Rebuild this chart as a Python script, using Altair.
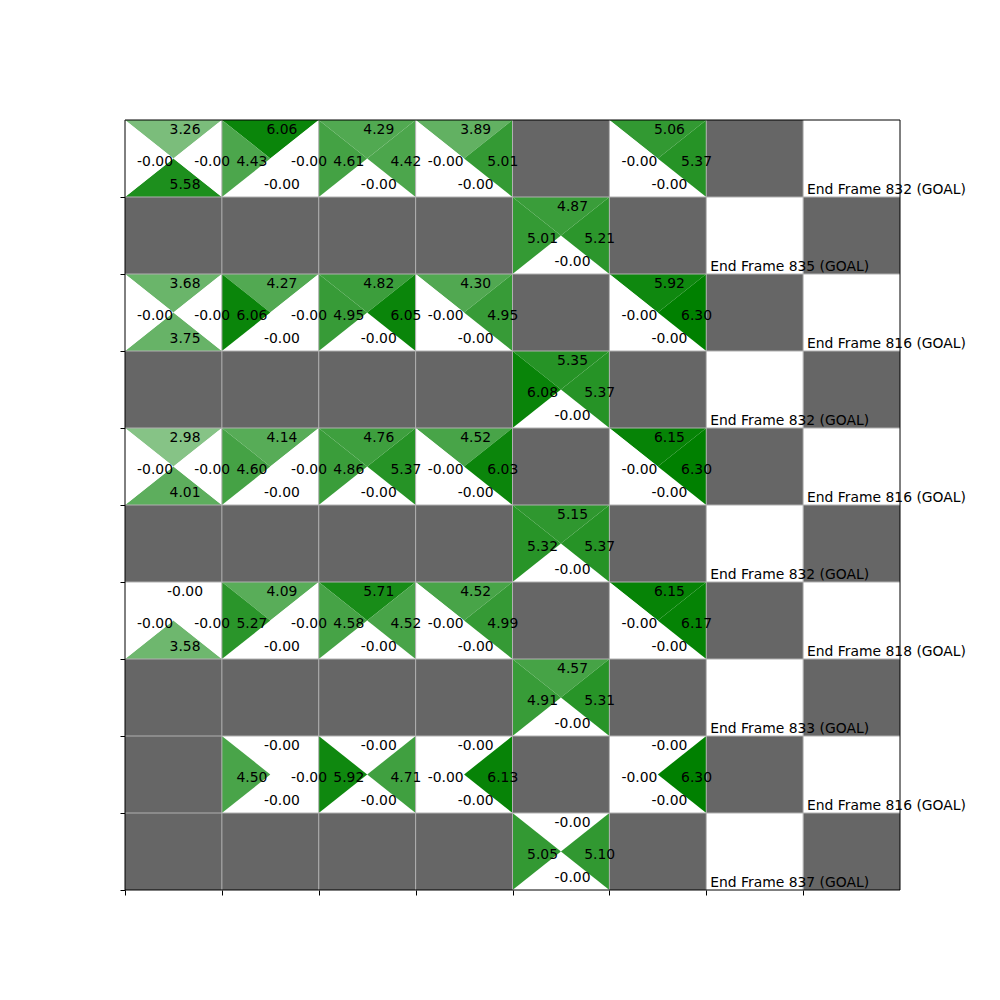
import altair as alt
import pandas as pd

N_ROWS, N_COLS = 10, 8

# W = wall (grey), G = goal (white), Q = cell with four action values
layout = [
    "QQQQWQWG",
    "WWWWQWGW",
    "QQQQWQWG",
    "WWWWQWGW",
    "QQQQWQWG",
    "WWWWQWGW",
    "QQQQWQWG",
    "WWWWQWGW",
    "WQQQWQWG",
    "WWWWQWGW",
]

# values for the Q cells, row-major order
q_top = [3.26, 6.06, 4.29, 3.89, 5.06,
         4.87,
         3.68, 4.27, 4.82, 4.30, 5.92,
         5.35,
         2.98, 4.14, 4.76, 4.52, 6.15,
         5.15,
         -0.0, 4.09, 5.71, 4.52, 6.15,
         4.57,
         -0.0, -0.0, -0.0, -0.0,
         -0.0]
q_left = [-0.0, 4.43, 4.61, -0.0, -0.0,
          5.01,
          -0.0, 6.06, 4.95, -0.0, -0.0,
          6.08,
          -0.0, 4.60, 4.86, -0.0, -0.0,
          5.32,
          -0.0, 5.27, 4.58, -0.0, -0.0,
          4.91,
          4.50, 5.92, -0.0, -0.0,
          5.05]
q_right = [-0.0, -0.0, 4.42, 5.01, 5.37,
           5.21,
           -0.0, -0.0, 6.05, 4.95, 6.30,
           5.37,
           -0.0, -0.0, 5.37, 6.03, 6.30,
           5.37,
           -0.0, -0.0, 4.52, 4.99, 6.17,
           5.31,
           -0.0, 4.71, 6.13, 6.30,
           5.10]
q_bottom = [5.58, -0.0, -0.0, -0.0, -0.0,
            -0.0,
            3.75, -0.0, -0.0, -0.0, -0.0,
            -0.0,
            4.01, -0.0, -0.0, -0.0, -0.0,
            -0.0,
            3.58, -0.0, -0.0, -0.0, -0.0,
            -0.0,
            -0.0, -0.0, -0.0, -0.0,
            -0.0]

goal_frames = [832, 835, 816, 832, 816, 832, 818, 833, 816, 837]
V_MAX = 6.30

# ---- build tables -------------------------------------------------------
walls, goals, tri_v, tri_h, texts = [], [], [], [], []
qi = 0
gi = 0
for r, row in enumerate(layout):
    for c, kind in enumerate(row):
        if kind == "W":
            walls.append(dict(x=c, x2=c + 1, y=r, y2=r + 1))
        elif kind == "G":
            goals.append(dict(x=c, x2=c + 1, y=r, y2=r + 1,
                              tx=c + 0.04, ty=r + 0.955,
                              label=f"End Frame {goal_frames[gi]} (GOAL)"))
            gi += 1
        else:
            t, l, rt, b = q_top[qi], q_left[qi], q_right[qi], q_bottom[qi]
            # top triangle
            for px, py2 in [(c, r), (c + 0.5, r + 0.5), (c + 1, r)]:
                tri_v.append(dict(tid=f"{qi}t", x=px, y=r, y2=py2, v=t))
            # bottom triangle
            for px, py2 in [(c, r + 1), (c + 0.5, r + 0.5), (c + 1, r + 1)]:
                tri_v.append(dict(tid=f"{qi}b", x=px, y=r + 1, y2=py2, v=b))
            # left triangle
            for py, px2 in [(r, c), (r + 0.5, c + 0.5), (r + 1, c)]:
                tri_h.append(dict(tid=f"{qi}l", y=py, x=c, x2=px2, v=l))
            # right triangle
            for py, px2 in [(r, c + 1), (r + 0.5, c + 0.5), (r + 1, c + 1)]:
                tri_h.append(dict(tid=f"{qi}r", y=py, x=c + 1, x2=px2, v=rt))
            texts += [
                dict(tx=c + 0.62, ty=r + 0.13, label=f"{t:.2f}"),
                dict(tx=c + 0.62, ty=r + 0.84, label=f"{b:.2f}"),
                dict(tx=c + 0.31, ty=r + 0.54, label=f"{l:.2f}"),
                dict(tx=c + 0.90, ty=r + 0.54, label=f"{rt:.2f}"),
            ]
            qi += 1

walls = pd.DataFrame(walls)
goals = pd.DataFrame(goals)
tri_v = pd.DataFrame(tri_v)
tri_h = pd.DataFrame(tri_h)
texts = pd.DataFrame(texts)
vgrid = pd.DataFrame(dict(x=list(range(1, N_COLS)), y=0, y2=N_ROWS))
hgrid = pd.DataFrame(dict(y=list(range(1, N_ROWS)), x=0, x2=N_COLS))
frame = pd.DataFrame(dict(x=[0], x2=[N_COLS], y=[0], y2=[N_ROWS]))

xs = alt.Scale(domain=[0, N_COLS], nice=False, zero=False)
ys = alt.Scale(domain=[0, N_ROWS], nice=False, zero=False, reverse=True)
xaxis = alt.Axis(values=list(range(N_COLS)), labels=False, ticks=True, tickColor="black",
                 tickSize=5, tickWidth=1, domain=False, grid=False, title="")
yaxis = alt.Axis(values=list(range(1, N_ROWS + 1)), labels=False, ticks=True, tickColor="black",
                 tickSize=5, tickWidth=1, domain=False, grid=False, title="")
cscale = alt.Scale(domain=[0, V_MAX], range=["white", "green"], interpolate="rgb", clamp=True)

wall_layer = alt.Chart(walls).mark_rect(fill="#666666", stroke=None).encode(
    x=alt.X("x:Q", scale=xs, axis=xaxis), x2="x2:Q",
    y=alt.Y("y:Q", scale=ys, axis=yaxis), y2="y2:Q")

goal_layer = alt.Chart(goals).mark_rect(fill="white").encode(
    x=alt.X("x:Q", scale=xs), x2="x2:Q",
    y=alt.Y("y:Q", scale=ys), y2="y2:Q")

tv_layer = alt.Chart(tri_v).mark_area(interpolate="linear").encode(
    x=alt.X("x:Q", scale=xs),
    y=alt.Y("y:Q", scale=ys, stack=None), y2="y2:Q",
    detail="tid:N",
    color=alt.Color("v:Q", scale=cscale, legend=None))

th_layer = alt.Chart(tri_h).mark_area(interpolate="linear", orient="horizontal").encode(
    y=alt.Y("y:Q", scale=ys),
    x=alt.X("x:Q", scale=xs, stack=None), x2="x2:Q",
    detail="tid:N",
    color=alt.Color("v:Q", scale=cscale, legend=None))

vgrid_layer = alt.Chart(vgrid).mark_rule(color="#b0b0b0", strokeWidth=1).encode(
    x=alt.X("x:Q", scale=xs), y=alt.Y("y:Q", scale=ys), y2="y2:Q")
hgrid_layer = alt.Chart(hgrid).mark_rule(color="#b0b0b0", strokeWidth=1).encode(
    y=alt.Y("y:Q", scale=ys), x=alt.X("x:Q", scale=xs), x2="x2:Q")

text_layer = alt.Chart(texts).mark_text(
    font="DejaVu Sans", fontSize=13.9, color="black", align="center", baseline="middle"
).encode(x=alt.X("tx:Q", scale=xs), y=alt.Y("ty:Q", scale=ys), text="label:N")

goal_text = alt.Chart(goals).mark_text(
    font="DejaVu Sans", fontSize=13.9, color="black", align="left", baseline="alphabetic"
).encode(x=alt.X("tx:Q", scale=xs), y=alt.Y("ty:Q", scale=ys), text="label:N")

frame_layer = alt.Chart(frame).mark_rect(fillOpacity=0, stroke="black", strokeWidth=1).encode(
    x=alt.X("x:Q", scale=xs), x2="x2:Q", y=alt.Y("y:Q", scale=ys), y2="y2:Q")

chart = alt.layer(
    wall_layer, goal_layer, tv_layer, th_layer, vgrid_layer, hgrid_layer,
    text_layer, goal_text, frame_layer
).properties(
    width=775, height=770,
    padding={"left": 125, "top": 120, "right": 100, "bottom": 110},
    autosize="none",
    background="white",
).configure_view(strokeWidth=0)

chart.save("out.html", embed_options={"renderer": "svg", "actions": False})
